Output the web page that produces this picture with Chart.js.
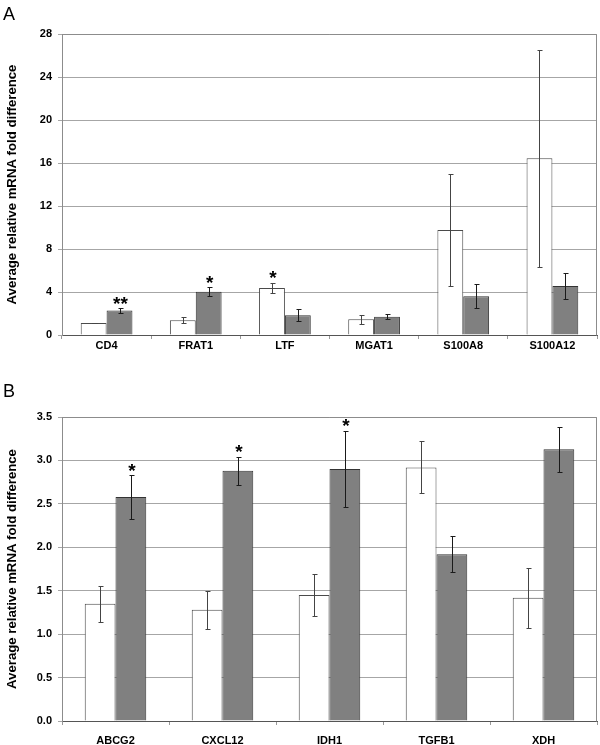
<!DOCTYPE html>
<html>
<head>
<meta charset="utf-8">
<script src="https://cdn.jsdelivr.net/npm/chart.js@4/dist/chart.umd.min.js"></script>
<style>
  html, body { margin: 0; padding: 0; background: #fff; }
  body { width: 600px; height: 745px; position: relative; overflow: hidden; font-family: "Liberation Sans", Arial, sans-serif; }
  .panel { position: absolute; left: 0; width: 600px; }
  .lbl { position: absolute; left: 3px; font-size: 18px; line-height: 18px; color: #000; font-family: "Liberation Sans", Arial, sans-serif; }
</style>
</head>
<body>
<div class="panel" style="top:0;height:370px;"><canvas id="cA" width="600" height="370"></canvas></div>
<div class="panel" style="top:370px;height:375px;"><canvas id="cB" width="600" height="375"></canvas></div>
<div class="lbl" style="top:5px;">A</div>
<div class="lbl" style="top:382px;">B</div>
<script>
// ---- Panel A data ----
const categoriesA = ['CD4', 'FRAT1', 'LTF', 'MGAT1', 'S100A8', 'S100A12'];
const whiteA      = [1.12, 1.37, 4.37, 1.46, 9.77, 16.44];
const whiteErrA   = [0.04, 0.30, 0.50, 0.42, 5.20, 10.10];
const grayA       = [2.28, 4.03, 1.83, 1.70, 3.60, 4.56];
const grayErrA    = [0.22, 0.40, 0.55, 0.22, 1.13, 1.23];
const whiteStarA  = ['', '', '*', '', '', ''];
const grayStarA   = ['**', '*', '', '', '', ''];
const ticksA      = [0, 4, 8, 12, 16, 20, 24, 28];

// ---- Panel B data ----
const categoriesB = ['ABCG2', 'CXCL12', 'IDH1', 'TGFB1', 'XDH'];
const whiteB      = [1.35, 1.28, 1.45, 2.92, 1.42];
const whiteErrB   = [0.21, 0.22, 0.24, 0.30, 0.345];
const grayB       = [2.58, 2.88, 2.90, 1.92, 3.13];
const grayErrB    = [0.25, 0.16, 0.44, 0.21, 0.26];
const whiteStarB  = ['', '', '', '', ''];
const grayStarB   = ['*', '*', '*', '', ''];
const ticksB      = [0, 0.5, 1.0, 1.5, 2.0, 2.5, 3.0, 3.5];

const FONT = '"Liberation Sans", Arial, sans-serif';
const yTitle = 'Average relative mRNA fold difference';

const errorPlugin = {
  id: 'errbars',
  afterDatasetsDraw(chart) {
    const ctx = chart.ctx;
    const yScale = chart.scales.y;
    chart.data.datasets.forEach((ds, di) => {
      const meta = chart.getDatasetMeta(di);
      meta.data.forEach((bar, i) => {
        const v = ds.data[i];
        const e = ds.errors[i];
        const x = bar.x;
        const yTop = yScale.getPixelForValue(v + e);
        const yBot = yScale.getPixelForValue(v - e);
        ctx.save();
        ctx.strokeStyle = ds.errColor;
        ctx.lineWidth = 1;
        ctx.beginPath();
        const xr = Math.round(x) + 0.5;
        ctx.moveTo(xr, Math.round(yTop) + 0.5);
        ctx.lineTo(xr, Math.round(yBot) + 0.5);
        ctx.moveTo(xr - 2, Math.round(yTop) + 0.5);
        ctx.lineTo(xr + 3, Math.round(yTop) + 0.5);
        ctx.moveTo(xr - 2, Math.round(yBot) + 0.5);
        ctx.lineTo(xr + 3, Math.round(yBot) + 0.5);
        ctx.stroke();
        const star = ds.stars[i];
        if (star) {
          ctx.fillStyle = '#000';
          ctx.font = 'bold 19px ' + FONT;
          ctx.textAlign = 'center';
          ctx.textBaseline = 'alphabetic';
          ctx.fillText(star, x + 1, yTop + 1.5);
        }
        ctx.restore();
      });
    });
  }
};

const borderPlugin = {
  id: 'frame',
  beforeDatasetsDraw(chart) {
    const a = chart.chartArea;
    const ctx = chart.ctx;
    ctx.save();
    ctx.strokeStyle = '#8c8c8c';
    ctx.lineWidth = 1;
    ctx.beginPath();
    ctx.moveTo(Math.round(a.left) + 0.5, Math.round(a.top) + 0.5);
    ctx.lineTo(Math.round(a.right) - 0.5, Math.round(a.top) + 0.5);
    ctx.lineTo(Math.round(a.right) - 0.5, Math.round(a.bottom) + 0.5);
    ctx.stroke();
    ctx.restore();
  }
};

function makeChart(id, cats, w, we, ws, g, ge, gs, ticks, opts) {
  const maxV = ticks[ticks.length - 1];
  return new Chart(document.getElementById(id), {
    type: 'bar',
    data: {
      labels: cats,
      datasets: [
        { data: w, errors: we, stars: ws, errColor: '#444',
          backgroundColor: '#ffffff', borderColor: '#4a4a4a', borderWidth: 1,
          categoryPercentage: opts.catPct, barPercentage: 1.0 },
        { data: g, errors: ge, stars: gs, errColor: '#1a1a1a',
          backgroundColor: '#808080', borderColor: '#333333', borderWidth: 1,
          categoryPercentage: opts.catPct, barPercentage: 1.0 }
      ]
    },
    options: {
      responsive: false,
      animation: false,
      devicePixelRatio: 1,
      layout: { padding: { top: opts.top, right: 3, left: 0, bottom: 0 } },
      plugins: { legend: { display: false }, tooltip: { enabled: false } },
      scales: {
        x: {
          grid: { display: true, drawOnChartArea: false, drawTicks: true, tickLength: 4, color: '#999', offset: true },
          border: { display: true, color: '#555', width: 1 },
          ticks: { color: '#000', font: { family: FONT, size: 11, weight: 'bold' }, padding: opts.xPad, maxRotation: 0 },
          afterFit(s) { s.height = opts.xH; }
        },
        y: {
          min: 0, max: maxV,
          afterBuildTicks(s) { s.ticks = ticks.map(v => ({ value: v })); },
          grid: { color: '#a6a6a6', lineWidth: 1, drawTicks: true, tickLength: 4 },
          border: { display: true, color: '#8c8c8c', width: 1 },
          ticks: {
            color: '#000', padding: 6,
            font: { family: FONT, size: 11, weight: 'bold' },
            callback: (v) => opts.dec ? Number(v).toFixed(1) : String(v)
          },
          title: { display: true, text: yTitle, color: '#000',
                   font: { family: FONT, size: 13.2, weight: 'bold' }, padding: { top: 4, bottom: 0 } },
          afterFit(s) { s.width = 62; }
        }
      }
    },
    plugins: [borderPlugin, errorPlugin]
  });
}

makeChart('cA', categoriesA, whiteA, whiteErrA, whiteStarA, grayA, grayErrA, grayStarA, ticksA,
          { top: 34, xH: 35, xPad: 0, catPct: 0.58, dec: false });
makeChart('cB', categoriesB, whiteB, whiteErrB, whiteStarB, grayB, grayErrB, grayStarB, ticksB,
          { top: 47, xH: 24, xPad: 9, catPct: 0.575, dec: true });
</script>
</body>
</html>
